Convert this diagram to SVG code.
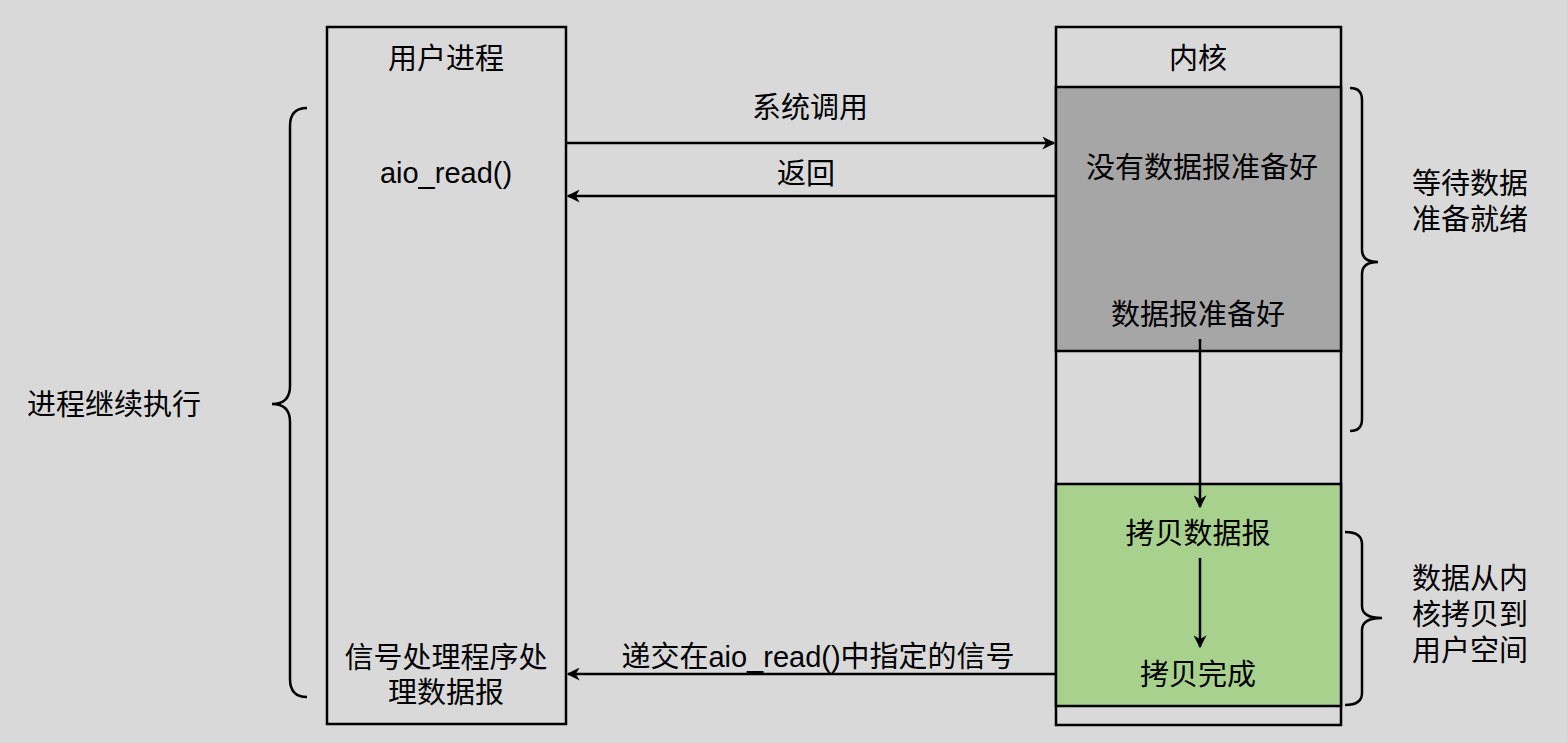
<svg xmlns="http://www.w3.org/2000/svg" width="1567" height="743" viewBox="0 0 1567 743">
<style>
text{font-family:"Liberation Sans","Noto Sans CJK SC",sans-serif;font-size:29px;fill:#000}
.c{text-anchor:middle}
.box{stroke:#000;stroke-width:2.5}
.ln{fill:none;stroke:#000;stroke-width:2.5}
</style>
<defs>
<marker id="ah" viewBox="0 0 10 10" refX="9" refY="5" markerWidth="13" markerHeight="13" markerUnits="userSpaceOnUse" orient="auto">
<path d="M0,0 L10,5 L0,10 L3,5 Z" fill="#000"/>
</marker>
</defs>
<rect width="1567" height="743" fill="#d9d9d9"/>
<g id="user">
<rect class="box" x="327" y="27" width="239" height="697" fill="#d9d9d9"/>
<text class="c" x="446" y="69">用户进程</text>
<text class="c" x="446" y="183">aio_read()</text>
<text class="c" x="446" y="668">信号处理程序处</text>
<text class="c" x="446" y="703">理数据报</text>
</g>
<g id="kernel">
<rect class="box" x="1056" y="27" width="285" height="698" fill="#d9d9d9"/>
<text class="c" x="1198" y="69">内核</text>
</g>
<g id="wait">
<rect class="box" x="1056" y="87" width="285" height="264" fill="#a6a6a6"/>
<text class="c" x="1202" y="178">没有数据报准备好</text>
<text class="c" x="1198" y="325">数据报准备好</text>
</g>
<g id="copy">
<rect class="box" x="1056" y="484" width="285" height="222" fill="#a9d18e"/>
<text class="c" x="1198" y="544">拷贝数据报</text>
<text class="c" x="1198" y="685">拷贝完成</text>
</g>
<g id="labels">
<text x="27" y="415">进程继续执行</text>
<text x="1412" y="194">等待数据</text>
<text x="1412" y="230">准备就绪</text>
<text x="1412" y="589">数据从内</text>
<text x="1412" y="625">核拷贝到</text>
<text x="1412" y="661">用户空间</text>
</g>
<g id="connectors">
<line class="ln" x1="566" y1="143" x2="1054" y2="143" marker-end="url(#ah)"/>
<text class="c" x="810" y="118">系统调用</text>
<line class="ln" x1="1056" y1="196" x2="568" y2="196" marker-end="url(#ah)"/>
<text class="c" x="806" y="184">返回</text>
<line class="ln" x1="1200" y1="339" x2="1200" y2="507" marker-end="url(#ah)"/>
<line class="ln" x1="1200" y1="558" x2="1200" y2="647" marker-end="url(#ah)"/>
<line class="ln" x1="1056" y1="674" x2="568" y2="674" marker-end="url(#ah)"/>
<text class="c" x="818" y="667">递交在aio_read()中指定的信号</text>
<path class="ln" d="M307,108 Q290,108 290,126 L290,386 Q290,404 272,404 Q290,404 290,422 L290,679 Q290,697 307,697"/>
<path class="ln" d="M1350,88 Q1362,88 1362,100 L1362,250 Q1362,262 1378,262 Q1362,262 1362,274 L1362,419 Q1362,431 1350,431"/>
<path class="ln" d="M1345,532 Q1362,532 1362,544 L1362,606 Q1362,618 1382,618 Q1362,618 1362,630 L1362,693 Q1362,705 1345,705"/>
</g>
</svg>
